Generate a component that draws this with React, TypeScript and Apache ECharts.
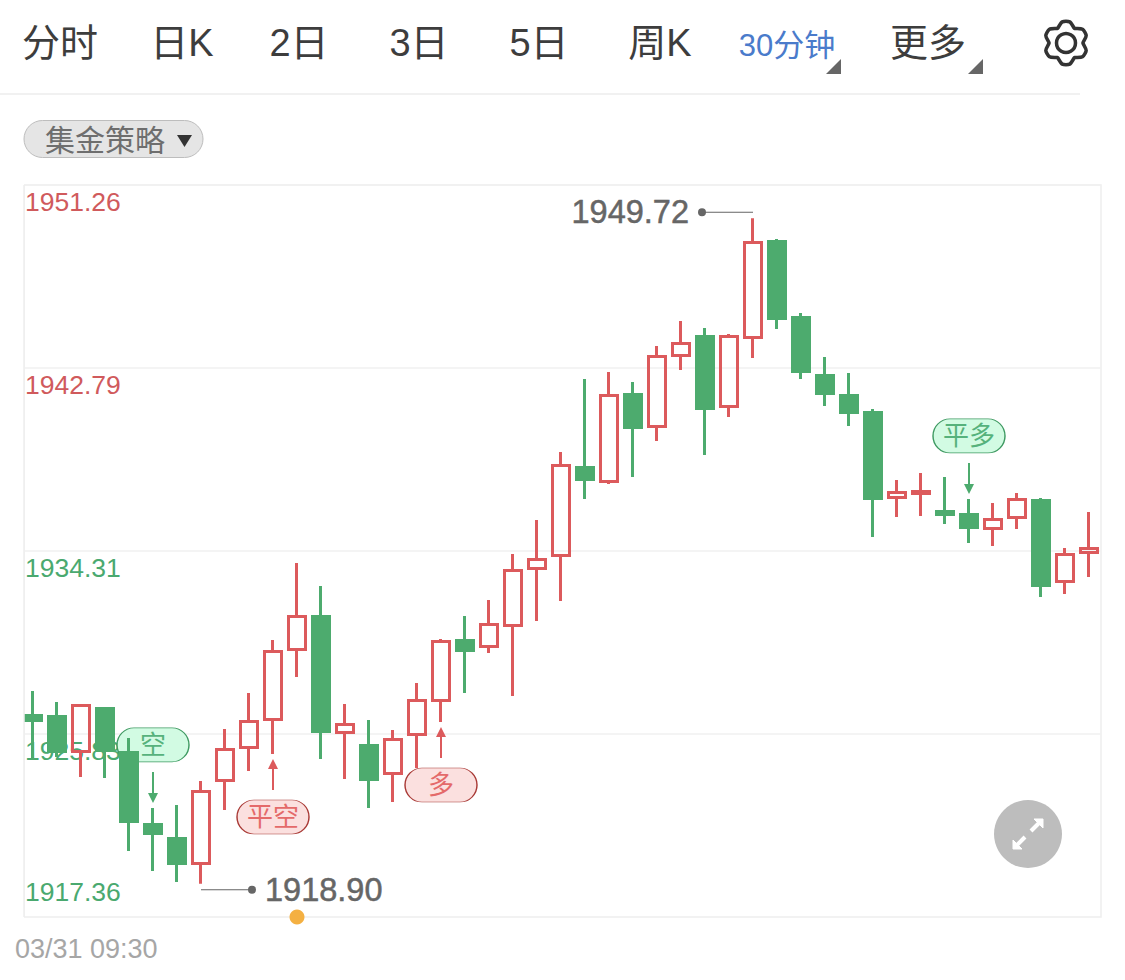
import React, { useEffect, useRef } from "react";
import * as echarts from "echarts";

const FONT = '"Liberation Sans","Noto Sans CJK SC",sans-serif';
const RED = "#dc5a5c";
const GREEN = "#4dab6e";

const tabs = ["分时", "日K", "2日", "3日", "5日", "周K"];
const tabCenters = [60, 182, 299, 419, 539, 660];
const activeTab = "30分钟";
const moreTab = "更多";
const strategy = "集金策略";
const xTickLabels = ["03/31 09:30"];
const yMax = 1951.26;
const yMin = 1917.36;
const yTicks = [1951.26, 1942.79, 1934.31, 1925.83];
const yRedTicks = [1951.26, 1942.79];
const highest = 1949.72;
const lowest = 1918.9;

// open, close, low, high
const candles = [
  [1926.69, 1926.46, 1924.63, 1927.83],
  [1926.65, 1925.03, 1924.77, 1927.32],
  [1925.03, 1927.15, 1923.84, 1927.22],
  [1927.02, 1925.07, 1923.8, 1927.09],
  [1924.98, 1921.78, 1920.42, 1925.65],
  [1921.64, 1921.23, 1919.49, 1922.41],
  [1921.0, 1919.84, 1918.98, 1922.55],
  [1919.84, 1923.17, 1918.9, 1923.66],
  [1923.68, 1925.12, 1922.32, 1926.07],
  [1925.21, 1926.41, 1924.12, 1927.73],
  [1926.51, 1929.66, 1924.91, 1930.19],
  [1929.75, 1931.28, 1928.47, 1933.75],
  [1931.28, 1925.95, 1924.68, 1932.69],
  [1925.91, 1926.27, 1923.75, 1927.22],
  [1925.3, 1923.73, 1922.41, 1926.48],
  [1924.01, 1925.58, 1922.69, 1926.02],
  [1925.81, 1927.39, 1924.26, 1928.2],
  [1927.39, 1930.12, 1926.39, 1930.23],
  [1930.16, 1929.7, 1927.73, 1931.3],
  [1929.89, 1930.91, 1929.59, 1932.04],
  [1930.86, 1933.41, 1927.6, 1934.17],
  [1933.5, 1933.92, 1931.07, 1935.75],
  [1934.1, 1938.27, 1931.99, 1938.89],
  [1938.18, 1937.62, 1936.72, 1942.28],
  [1937.53, 1941.51, 1937.41, 1942.6],
  [1941.56, 1940.03, 1937.74, 1942.14],
  [1940.08, 1943.32, 1939.4, 1943.8],
  [1943.36, 1943.92, 1942.69, 1944.96],
  [1944.24, 1940.91, 1938.76, 1944.64],
  [1941.0, 1944.24, 1940.52, 1944.36],
  [1944.2, 1948.6, 1943.25, 1949.72],
  [1948.64, 1945.08, 1944.59, 1948.76],
  [1945.12, 1942.62, 1942.28, 1945.33],
  [1942.44, 1941.6, 1941.03, 1943.29],
  [1941.51, 1940.72, 1940.1, 1942.55],
  [1940.72, 1936.74, 1934.96, 1940.89],
  [1936.79, 1937.02, 1935.88, 1937.6],
  [1936.97, 1937.07, 1935.93, 1937.92],
  [1936.14, 1936.0, 1935.56, 1937.74],
  [1936.0, 1935.4, 1934.68, 1936.72],
  [1935.35, 1935.77, 1934.54, 1936.53],
  [1935.86, 1936.69, 1935.33, 1937.0],
  [1936.65, 1932.71, 1932.18, 1936.76],
  [1932.9, 1934.15, 1932.32, 1934.45],
  [1934.24, 1934.43, 1933.11, 1936.12],
];
const categories = candles.map((_, i) => String(i));

// strategy signals: candle index and text
const sellSignals = [
  { index: 5, text: "空" },
  { index: 39, text: "平多" },
];
const buySignals = [
  { index: 10, text: "平空" },
  { index: 17, text: "多" },
];
const peakIndex = 30;
const troughIndex = 7;
const markerIndex = 11;

const PILL = "path://M17 0H55A17 17 0 0 1 55 34H17A17 17 0 0 1 17 0Z";
const ARROW_DOWN = "path://M4 0H6V21H10L5 31L0 21H4Z";
const ARROW_UP = "path://M5 0L10 10H6V31H4V10H0Z";
const DOT_LEFT = "path://M4 0A4 4 0 1 1 4 8A4 4 0 1 1 4 0ZM4 3.4H55V4.6H4Z";
const DOT_RIGHT = "path://M51 0A4 4 0 1 1 51 8A4 4 0 1 1 51 0ZM0 3.4H51V4.6H0Z";

function pill(coord: number[], offset: number, text: string, fill: string, stroke: string, color: string) {
  return {
    coord,
    symbol: PILL,
    symbolSize: [72, 34],
    symbolOffset: [0, offset],
    itemStyle: { color: fill, borderColor: stroke, borderWidth: 1 },
    label: { show: true, position: "inside", formatter: text, fontSize: 26, color, fontFamily: FONT },
  };
}
function arrow(coord: number[], path: string, offset: number, color: string) {
  return {
    coord,
    symbol: path,
    symbolSize: [10, 31],
    symbolOffset: [0, offset],
    itemStyle: { color },
    label: { show: false },
  };
}

function buildOption() {
  const points: any[] = [];
  sellSignals.forEach((s) => {
    const c: number[] = [s.index, candles[s.index][3]];
    points.push(pill(c, -63, s.text, "#d2fbe3", "#3f9a62", "#56b27c"));
    points.push(arrow(c, ARROW_DOWN, -20.5, GREEN));
  });
  buySignals.forEach((s) => {
    const c: number[] = [s.index, candles[s.index][2]];
    points.push(pill(c, 63, s.text, "#fbe0df", "#a93a36", "#e46a6a"));
    points.push(arrow(c, ARROW_UP, 20.5, RED));
  });
  const extremeLabel = (pos: string, dist: number, text: string) => ({
    show: true,
    position: pos,
    distance: dist,
    formatter: text,
    fontSize: 32.5,
    color: "#666",
    fontFamily: FONT,
    textBorderColor: "#666",
    textBorderWidth: 0.5,
  });
  points.push({
    coord: [peakIndex, highest],
    symbol: DOT_LEFT,
    symbolSize: [55, 8],
    symbolOffset: [-27.5, -6],
    itemStyle: { color: "#666" },
    label: extremeLabel("left", 9, highest.toFixed(2)),
  });
  points.push({
    coord: [troughIndex, lowest],
    symbol: DOT_RIGHT,
    symbolSize: [55, 8],
    symbolOffset: [27.5, 6],
    itemStyle: { color: "#666" },
    label: extremeLabel("right", 9, lowest.toFixed(2)),
  });
  points.push({
    coord: [markerIndex, yMin],
    symbol: "circle",
    symbolSize: 15,
    itemStyle: { color: "#f4b042" },
    label: { show: false },
  });

  const gear: number[][] = [];
  for (let i = 0; i < 6; i++) {
    const a = (-90 + i * 60) * (Math.PI / 180);
    const w = 10 * (Math.PI / 180);
    const v = 29 * (Math.PI / 180);
    [
      [-v, 17],
      [-w, 21.5],
      [w, 21.5],
      [v, 17],
    ].forEach(([d, r]) => gear.push([1066 + r * Math.cos(a + d), 43 + r * Math.sin(a + d)]));
  }

  const text = (x: number, y: number, t: string, size: number, fill: string, align = "center") => ({
    type: "text",
    x,
    y,
    z: 20,
    style: { text: t, fontSize: size, fill, fontFamily: FONT, align, verticalAlign: "middle" },
  });

  return {
    animation: false,
    backgroundColor: "#fff",
    grid: { left: 21, right: 24, top: 185, bottom: 63, containLabel: false },
    xAxis: {
      type: "category",
      data: categories,
      boundaryGap: true,
      axisLine: { show: false },
      axisTick: { show: false },
      axisLabel: { show: false },
      splitLine: { show: false },
    },
    yAxis: [
      {
        type: "value",
        min: yMin,
        max: yMax,
        axisLine: { show: false },
        axisTick: { show: false, customValues: yTicks },
        splitLine: { show: true, lineStyle: { color: "#f0f0f0", width: 1.5 } },
        axisLabel: {
          show: true,
          inside: true,
          margin: 4,
          customValues: yTicks,
          fontSize: 26.5,
          fontFamily: FONT,
          verticalAlign: "top",
          padding: [4, 0, 0, 0],
          formatter: (v: number) => v.toFixed(2),
          color: (v: any) => (yRedTicks.includes(Number(v)) ? "#d05a5c" : "#4aa96f"),
        },
      },
      {
        type: "value",
        min: yMin,
        max: yMax,
        position: "left",
        axisLine: { show: false },
        axisTick: { show: false, customValues: [yMin] },
        splitLine: { show: false },
        axisLabel: {
          show: true,
          inside: true,
          margin: 4,
          customValues: [yMin],
          fontSize: 26.5,
          fontFamily: FONT,
          verticalAlign: "bottom",
          padding: [0, 0, 12, 0],
          formatter: (v: number) => v.toFixed(2),
          color: "#4aa96f",
        },
      },
    ],
    series: [
      {
        type: "candlestick",
        data: candles,
        barWidth: 18,
        clip: false,
        itemStyle: {
          color: "rgba(255,255,255,0)",
          color0: GREEN,
          borderColor: RED,
          borderColor0: GREEN,
          borderWidth: 3,
        },
        markPoint: { silent: true, z: 1, data: points },
      },
    ],
    graphic: {
      elements: [
        ...tabs.map((t, i) => text(tabCenters[i], 43, t, 38, "#3d3d3d")),
        text(787, 45, activeTab, 31, "#4a7bcb"),
        text(928, 43, moreTab, 38, "#3d3d3d"),
        { type: "polygon", z: 20, shape: { points: [[841, 59], [841, 74], [826, 74]] }, style: { fill: "#666" } },
        { type: "polygon", z: 20, shape: { points: [[983, 59], [983, 74], [968, 74]] }, style: { fill: "#666" } },
        {
          type: "polygon",
          z: 20,
          shape: { points: gear, smooth: 0.25 },
          style: { fill: "none", stroke: "#333", lineWidth: 3.5 },
        },
        { type: "circle", z: 20, shape: { cx: 1066, cy: 43, r: 9.5 }, style: { fill: "none", stroke: "#333", lineWidth: 3.5 } },
        { type: "line", z: 20, shape: { x1: 0, y1: 94, x2: 1080, y2: 94 }, style: { stroke: "#f1f1f1", lineWidth: 2 } },
        {
          type: "rect",
          z: 20,
          shape: { x: 24, y: 120.5, width: 179, height: 37, r: 18.5 },
          style: { fill: "#e5e5e5", stroke: "#bdbdbd", lineWidth: 1 },
        },
        text(105, 140, strategy, 30, "#6e6e6e"),
        { type: "polygon", z: 21, shape: { points: [[177, 135], [192, 135], [184.5, 147]] }, style: { fill: "#333" } },
        { type: "rect", z: 0, shape: { x: 24, y: 185, width: 1077, height: 732 }, style: { fill: "none", stroke: "#eeeeee", lineWidth: 1.5 } },
        { type: "rect", z: 10, shape: { x: 12, y: 184, width: 12, height: 734 }, style: { fill: "#fff" } },
        { type: "line", z: 11, shape: { x1: 24, y1: 185, x2: 24, y2: 917 }, style: { stroke: "#eeeeee", lineWidth: 1.5 } },
        text(15, 949, xTickLabels[0], 27, "#a6a6a6", "left"),
        { type: "circle", z: 20, shape: { cx: 1028, cy: 834, r: 34 }, style: { fill: "#bdbdbd" } },
        { type: "line", z: 21, shape: { x1: 1031, y1: 831, x2: 1039, y2: 823 }, style: { stroke: "#fff", lineWidth: 4 } },
        { type: "polygon", z: 21, shape: { points: [[1034, 819], [1043, 819], [1043, 828]] }, style: { fill: "#fff", stroke: "#fff", lineWidth: 1 } },
        { type: "line", z: 21, shape: { x1: 1025, y1: 837, x2: 1017, y2: 845 }, style: { stroke: "#fff", lineWidth: 4 } },
        { type: "polygon", z: 21, shape: { points: [[1013, 840], [1013, 849], [1022, 849]] }, style: { fill: "#fff", stroke: "#fff", lineWidth: 1 } },
      ],
    },
  };
}

export default function App() {
  const ref = useRef<HTMLDivElement>(null);
  useEffect(() => {
    const chart = echarts.init(ref.current!, undefined, { renderer: "svg" });
    chart.setOption(buildOption() as any);
    return () => chart.dispose();
  }, []);
  return <div ref={ref} style={{ position: "fixed", left: 0, top: 0, width: 1125, height: 980 }} />;
}
